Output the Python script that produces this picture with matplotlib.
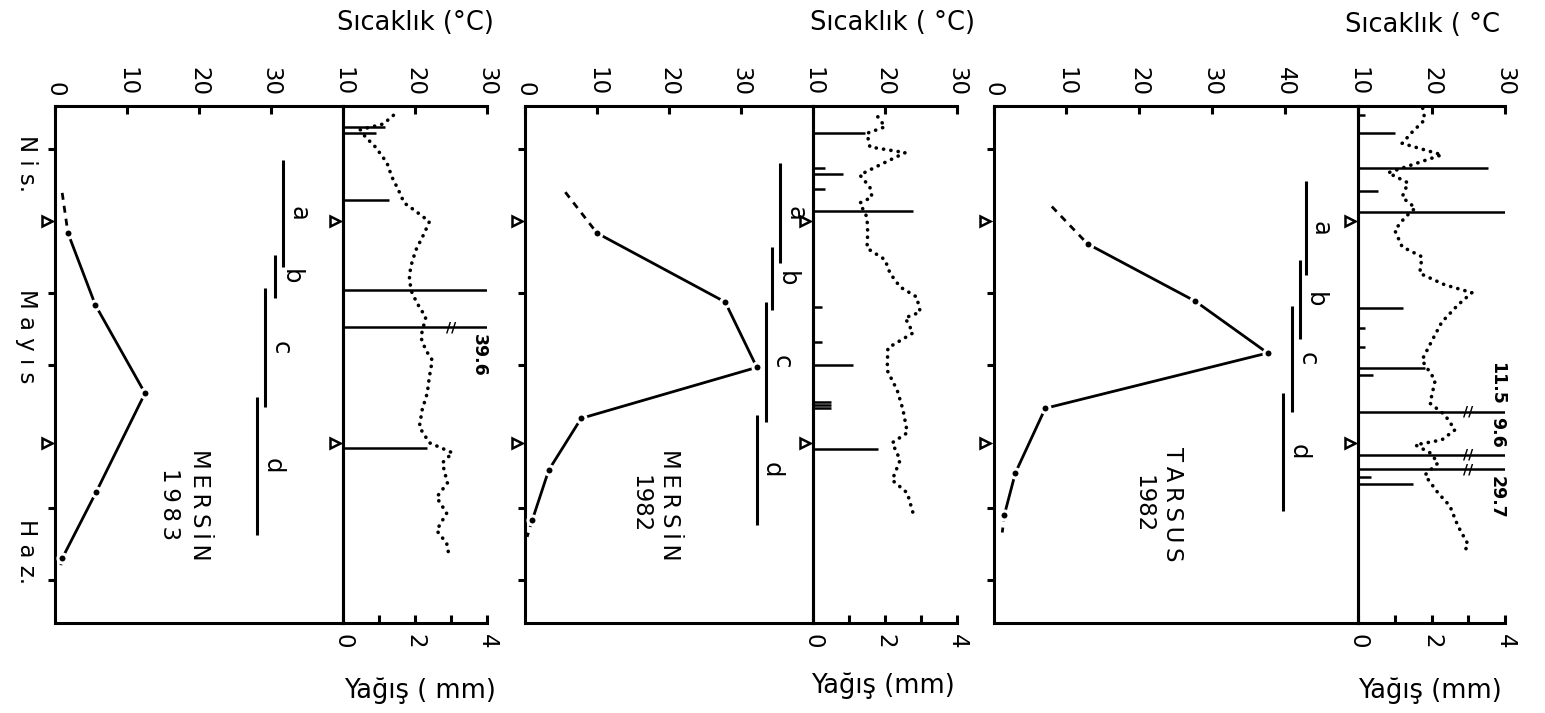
import matplotlib
matplotlib.use("Agg")
import matplotlib.pyplot as plt
from matplotlib.transforms import offset_copy, blended_transform_factory

# ---- zaman ekseni (gün: 31 Mart = 0) ----
day_ticks = [20, 40, 50, 70, 80]
month_end_days = [30, 61]
month_labels = ["N i s.", "M a y ı s", "H a z."]
month_label_days = [22, 46, 76]

period_names = ["a", "b", "c", "d"]

# ---- MERSİN 1983 ----
m83_count_days = [26.1, 31.7, 41.7, 54.0, 67.8, 77.0, 78.6]
m83_count = [1.0, 1.8, 5.6, 12.5, 5.7, 1.0, 0.7]
m83_per_start = [21.5, 34.8, 39.3, 54.5]
m83_per_end = [36.4, 40.7, 55.9, 73.7]
m83_per_level = [31.7, 30.6, 29.2, 28.1]
m83_temp_days = [15.3, 16.5, 17.3, 18.3, 19.7, 21.9, 23.9, 25.7, 27.5, 28.5, 30.1, 31.7,
                 34.1, 36.4, 38.2, 40.1, 42.0, 43.4, 46.2, 48.0, 49.4, 51.7, 54.0, 56.3,
                 58.7, 60.9, 62.3, 63.7, 66.5, 68.5, 70.7, 73.1, 74.9, 77.0]
m83_temp = [17.0, 15.6, 12.4, 13.1, 14.5, 16.1, 16.8, 17.7, 18.5, 19.9, 22.0, 21.3,
            20.1, 19.4, 19.2, 19.6, 20.6, 21.5, 20.8, 21.5, 22.4, 22.0, 21.7, 21.0,
            20.6, 22.0, 25.2, 23.8, 24.5, 23.0, 24.4, 23.0, 24.4, 24.8]
m83_rain_days = [16.9, 17.8, 27.1, 39.6, 61.6]
m83_rain = [1.18, 0.93, 1.27, 4.0, 2.34]
m83_big_days = [44.8]
m83_big_labels = ["39.6"]
m83_big_side = ["below"]

# ---- MERSİN 1982 ----
m82_count_days = [26.0, 31.7, 41.3, 50.4, 57.5, 64.7, 71.7, 74.0]
m82_count = [5.6, 10.0, 27.8, 32.2, 7.8, 3.3, 1.0, 0.3]
m82_per_start = [21.9, 33.6, 41.3, 57.0]
m82_per_end = [35.9, 42.4, 58.0, 72.4]
m82_per_level = [35.4, 34.3, 33.5, 32.2]
m82_temp_days = [15.5, 16.9, 17.8, 19.7, 20.5, 22.2, 23.6, 25.3, 26.7, 27.5, 29.5, 31.7,
                 33.8, 35.4, 37.3, 39.2, 40.6, 42.7, 43.5, 45.6, 47.7, 50.8, 53.6, 56.3,
                 59.5, 60.9, 63.3, 66.1, 67.9, 70.7]
m82_temp = [19.0, 20.0, 17.5, 17.9, 22.8, 19.3, 16.5, 17.9, 18.2, 16.5, 17.5, 17.6,
            17.5, 20.0, 20.7, 22.1, 24.4, 24.9, 22.8, 23.9, 20.4, 20.3, 21.7, 22.5,
            23.1, 21.0, 22.1, 21.0, 23.1, 23.9]
m82_rain_days = [17.8, 22.7, 23.5, 25.6, 28.6, 42.0, 46.9, 50.1, 55.2, 55.6, 56.0, 61.8]
m82_rain = [1.45, 0.33, 0.84, 0.33, 2.78, 0.25, 0.25, 1.1, 0.5, 0.5, 0.5, 1.8]
m82_big_days = []
m82_big_labels = []
m82_big_side = []

# ---- TARSUS 1982 ----
t82_count_days = [28.0, 33.2, 41.2, 48.4, 56.1, 65.1, 70.9, 73.4]
t82_count = [8.0, 12.9, 27.7, 37.6, 7.1, 3.0, 1.5, 1.2]
t82_per_start = [24.5, 35.5, 41.9, 54.0]
t82_per_end = [37.5, 46.4, 56.6, 70.4]
t82_per_level = [42.8, 42.0, 41.0, 39.7]
t82_temp_days = [14.3, 15.9, 17.6, 19.2, 20.8, 23.3, 24.7, 26.7, 28.2, 29.5, 31.3, 33.6,
                 35.0, 37.3, 38.9, 40.0, 41.7, 44.1, 46.6, 49.4, 52.2, 55.4, 57.0, 59.1,
                 60.5, 61.2, 62.3, 63.7, 65.4, 67.9, 69.7, 72.5, 75.1, 76.5]
t82_temp = [18.8, 19.1, 17.4, 16.0, 21.4, 14.1, 16.8, 16.0, 17.8, 16.4, 15.0, 16.0,
            18.7, 18.4, 21.8, 25.5, 23.6, 21.4, 20.1, 18.7, 20.5, 19.8, 21.8, 23.2,
            21.4, 17.8, 19.8, 20.9, 19.1, 20.9, 22.5, 23.6, 25.0, 24.2]
t82_rain_days = [15.3, 17.8, 22.6, 25.8, 28.8, 42.1, 44.9, 47.6, 50.5, 51.5, 65.7, 66.6]
t82_rain = [0.2, 1.0, 3.54, 0.54, 4.0, 1.23, 0.2, 0.2, 1.82, 0.4, 0.35, 1.5]
t82_big_days = [56.6, 62.6, 64.6]
t82_big_labels = ["11.5", "9.6", "29.7"]
t82_big_side = ["above", "above", "below"]

W, H = 1545, 713
FRAME_TOP, FRAME_BOT = 106, 623
LW = 2.2
FS = 16.5


def px_rect(x0, x1):
    return [x0 / W, (H - FRAME_BOT) / H, (x1 - x0) / W, (FRAME_BOT - FRAME_TOP) / H]


def draw_group(fig, xs, count_max, count_ticks, count_days, count, per_start, per_end,
               per_level, temp_days, temp, rain_days, rain, big_days, big_labels,
               big_side, name):
    ax_c = fig.add_axes(px_rect(xs[0], xs[1]))
    ax_p = fig.add_axes(px_rect(xs[1], xs[2]))
    for ax in (ax_c, ax_p):
        ax.set_ylim(86, 14)
        ax.set_facecolor("none")
        for s in ax.spines.values():
            s.set_linewidth(LW)

    # sol panel: sayım eğrisi
    ax_c.set_xlim(0, count_max)
    ax_c.xaxis.tick_top()
    ax_c.set_xticks(count_ticks)
    ax_c.tick_params(axis="x", direction="in", length=6, width=LW, labelsize=FS,
                     labelrotation=-90, pad=7)
    ax_c.set_yticks(day_ticks)
    ax_c.set_yticklabels([])
    ax_c.tick_params(axis="y", direction="out", length=5, width=LW)

    ax_c.plot(count[:2], count_days[:2], color="k", lw=2, ls=(0, (2.5, 2.2)))
    ax_c.plot(count[-2:], count_days[-2:], color="k", lw=2, ls=(0, (2.5, 2.2)))
    ax_c.plot(count[1:-1], count_days[1:-1], color="k", lw=2)
    ax_c.plot(count[1:-1], count_days[1:-1], ls="none", marker="o", ms=6.5,
              mfc="k", mec="white", mew=2.2, zorder=3)

    ax_c.vlines(per_level, per_start, per_end, color="k", lw=LW)
    for nm, lv, s0, s1 in zip(period_names, per_level, per_start, per_end):
        ax_c.annotate(nm, xy=(lv, (s0 + s1) / 2), xytext=(11, 0),
                      textcoords="offset points", rotation=-90, ha="center",
                      va="center", fontsize=FS + 1)

    tr = blended_transform_factory(ax_c.transAxes, ax_c.transData)
    ax_c.text(0.45, 69.5, name, transform=tr, rotation=-90, ha="center", va="center",
              fontsize=FS, multialignment="center", linespacing=1.35)

    # sağ panel: yağış (alt) ve sıcaklık (üst)
    ax_p.set_xlim(0, 4)
    ax_p.set_xticks([0, 1, 2, 3, 4])
    ax_p.set_xticklabels(["0", "", "2", "", "4"])
    ax_p.tick_params(axis="x", direction="in", length=6, width=LW, labelsize=FS,
                     labelrotation=-90, pad=8)
    ax_p.set_yticks([])
    ax_p.spines["right"].set_visible(False)
    ax_p.spines["top"].set_visible(False)

    ax_t = ax_p.twiny()
    ax_t.set_xlim(10, 30)
    ax_t.set_xticks([10, 20, 30])
    ax_t.tick_params(axis="x", direction="in", length=6, width=LW, labelsize=FS,
                     labelrotation=-90, pad=7)
    for k in ("left", "right", "bottom"):
        ax_t.spines[k].set_visible(False)
    ax_t.spines["top"].set_linewidth(LW)

    ax_p.hlines(rain_days, 0, rain, color="k", lw=1.8)
    ax_p.hlines(big_days, 0, 4.0, color="k", lw=1.8)
    for d, lab, side in zip(big_days, big_labels, big_side):
        ax_p.text(3.0, d, "//", ha="center", va="center", fontsize=10,
                  fontweight="bold")
        off = 5 if side == "below" else -5
        ax_p.annotate(lab, xy=(3.78, d), xytext=(0, -off), textcoords="offset points",
                      rotation=-90, ha="center",
                      va="top" if side == "below" else "bottom",
                      fontsize=FS - 4, fontweight="bold", annotation_clip=False)

    ax_t.plot(temp, temp_days, color="k", lw=2.6, ls=(0, (0.05, 2.0)),
              dash_capstyle="round")

    # ay sonu üçgenleri
    for ax in (ax_c, ax_p):
        trm = offset_copy(ax.get_yaxis_transform(), fig=fig, x=-6, units="points")
        ax.plot([0] * len(month_end_days), month_end_days, ls="none", marker=">",
                ms=7, mfc="white", mec="k", mew=1.8, transform=trm, clip_on=False)
    return ax_c, ax_p


fig = plt.figure(figsize=(W / 100, H / 100), dpi=100)
fig.patch.set_facecolor("white")
plt.rcParams["font.family"] = ["DejaVu Sans"]

axL, _ = draw_group(fig, (55, 343, 487), 40, [0, 10, 20, 30], m83_count_days, m83_count,
                    m83_per_start, m83_per_end, m83_per_level, m83_temp_days, m83_temp,
                    m83_rain_days, m83_rain, m83_big_days, m83_big_labels, m83_big_side,
                    "M\u2009E\u2009R\u2009S\u2009İ\u2009N\n1\u20099\u20098\u20093")
draw_group(fig, (525, 813, 957), 40, [0, 10, 20, 30], m82_count_days, m82_count,
           m82_per_start, m82_per_end, m82_per_level, m82_temp_days, m82_temp,
           m82_rain_days, m82_rain, m82_big_days, m82_big_labels, m82_big_side,
           "M\u2009E\u2009R\u2009S\u2009İ\u2009N\n1982")
draw_group(fig, (993.5, 1358, 1505), 50, [0, 10, 20, 30, 40], t82_count_days, t82_count,
           t82_per_start, t82_per_end, t82_per_level, t82_temp_days, t82_temp,
           t82_rain_days, t82_rain, t82_big_days, t82_big_labels, t82_big_side,
           "T\u2009A\u2009R\u2009S\u2009U\u2009S\n1982")

# ay adları
trm = blended_transform_factory(fig.transFigure, axL.transData)
for lab, d in zip(month_labels, month_label_days):
    axL.text(26 / W, d, lab, transform=trm, rotation=-90, ha="center", va="center",
             fontsize=FS)

# eksen başlıkları
TS = 18.5
fig.text(415 / W, 1 - 23 / H, "Sıcaklık (°C)", ha="center", va="center", fontsize=TS)
fig.text(893 / W, 1 - 23 / H, "Sıcaklık ( °C)", ha="center", va="center", fontsize=TS)
fig.text(1345 / W, 1 - 25 / H, "Sıcaklık ( °C", ha="left", va="center", fontsize=TS)
fig.text(420 / W, 1 - 691 / H, "Yağış ( mm)", ha="center", va="center", fontsize=TS)
fig.text(883 / W, 1 - 686 / H, "Yağış (mm)", ha="center", va="center", fontsize=TS)
fig.text(1430 / W, 1 - 691 / H, "Yağış (mm)", ha="center", va="center", fontsize=TS)

fig.savefig("out.png", dpi=100, facecolor="white")
